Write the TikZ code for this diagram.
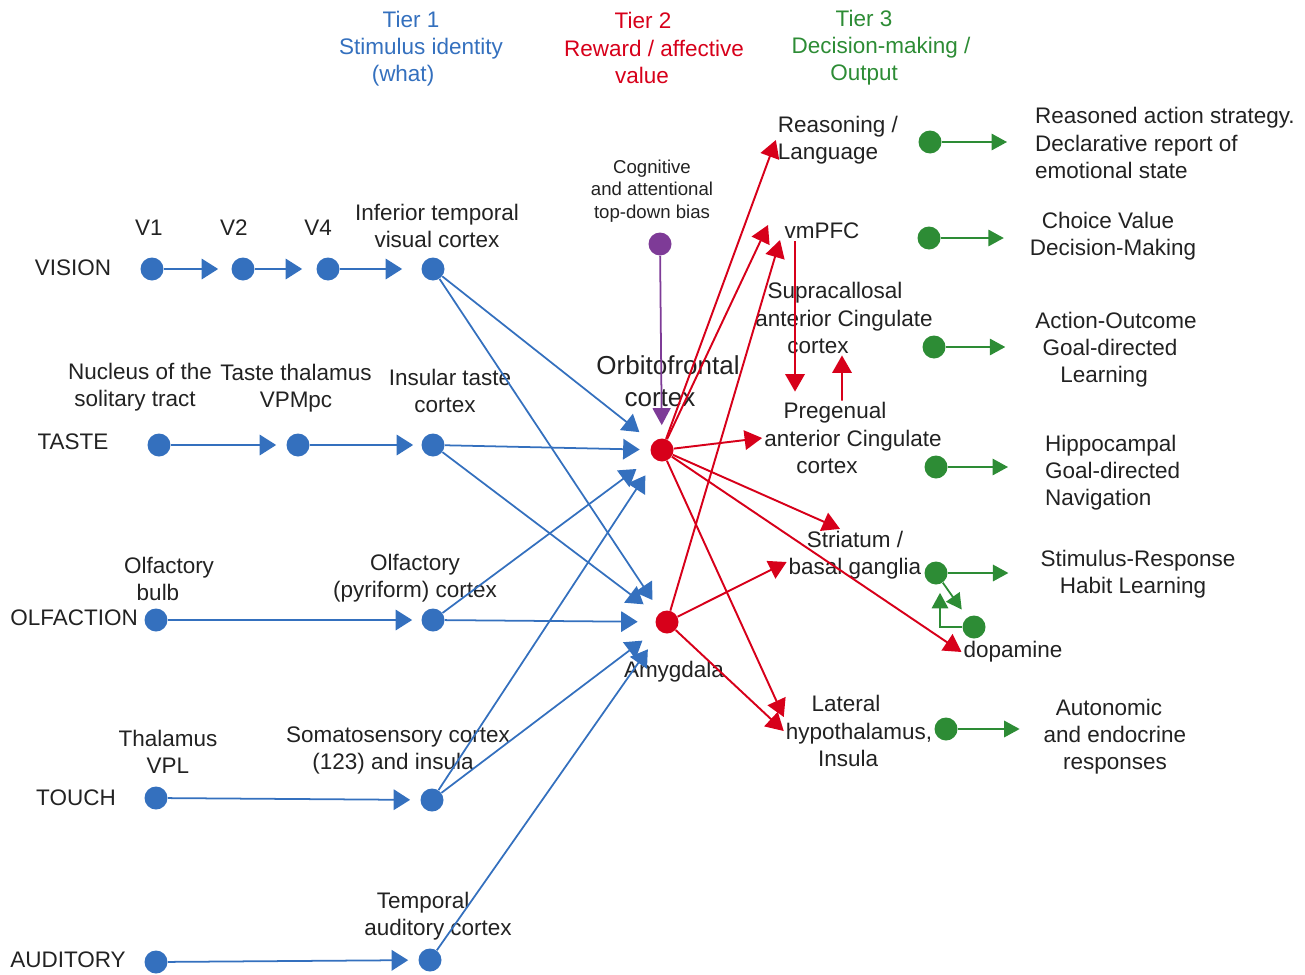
\documentclass[tikz,border=0pt]{standalone}
\usepackage{fontspec}
\setmainfont{Liberation Sans}
\usetikzlibrary{arrows.meta}
\definecolor{tierblue}{HTML}{3470BE}
\definecolor{tierred}{HTML}{D7001A}
\definecolor{tiergreen}{HTML}{2D8C35}
\definecolor{biaspurple}{HTML}{7E3B97}
\definecolor{txtgray}{HTML}{222222}

\begin{document}
\begin{tikzpicture}[x=0.02cm, y=-0.02cm,
    lbl/.style={align=center, text=txtgray, inner sep=1pt, font=\fontsize{12.8}{15.4}\selectfont},
    dot/.style={circle, minimum size=0.46cm, inner sep=0pt},
    bdot/.style={dot, fill=tierblue},
    rdot/.style={dot, fill=tierred},
    gdot/.style={dot, fill=tiergreen},
    barrow/.style={-{Triangle[length=0.33cm, width=0.41cm]}, tierblue, line width=1pt, shorten >=0.2cm},
    rarrow/.style={-{Triangle[length=0.35cm, width=0.39cm]}, tierred, line width=1.1pt},
    garrow/.style={-{Triangle[length=0.31cm, width=0.33cm]}, tiergreen, line width=1pt}
  ]
    \useasboundingbox (0,0) rectangle (1305,974);

    % Tier headings
    \node[lbl, text=tierblue] (tier1) at (421,49) {Tier 1\kern0.4cm\\Stimulus identity\\(what)\kern0.72cm};
    \node[lbl, text=tierred] (tier2) at (654,48) {Tier 2\kern0.44cm\\Reward / affective\\value\kern0.48cm};
    \node[lbl, text=tiergreen] (tier3) at (881,48) {Tier 3\kern0.68cm\\Decision-making /\\Output\kern0.68cm};

    % Tier 1 dots
    \node[bdot] (v1) at (152,269) {};
    \node[bdot] (v2) at (243,269) {};
    \node[bdot] (v4) at (328,269) {};
    \node[bdot] (itc) at (433,269) {};
    \node[bdot] (nts) at (159,445) {};
    \node[bdot] (vpm) at (298,445) {};
    \node[bdot] (ins) at (433,445) {};
    \node[bdot] (ob) at (156,620) {};
    \node[bdot] (pyr) at (433,620) {};
    \node[bdot] (vpl) at (156,798) {};
    \node[bdot] (som) at (432,800) {};
    \node[bdot] (ear) at (156,962) {};
    \node[bdot] (aud) at (430,960) {};

    % Tier 1 labels
    \node[lbl] (vision) at (73,268) {VISION};
    \node[lbl] (taste) at (73,442) {TASTE};
    \node[lbl] (olfaction) at (74,618) {OLFACTION};
    \node[lbl] (touch) at (76,798) {TOUCH};
    \node[lbl] (auditory) at (68,960) {AUDITORY};
    \node[lbl] (v1lbl) at (149,228) {V1};
    \node[lbl] (v2lbl) at (234,228) {V2};
    \node[lbl] (v4lbl) at (318,228) {V4};
    \node[lbl] (itclbl) at (437,226) {Inferior temporal\\visual cortex};
    \node[lbl] (ntslbl) at (140,387) {Nucleus of the\\solitary tract\kern0.2cm};
    \node[lbl] (vpmlbl) at (296,388) {Taste thalamus\\VPMpc};
    \node[lbl] (inslbl) at (450,391) {Insular taste\\cortex\kern0.2cm};
    \node[lbl] (oblbl) at (169,579) {Olfactory\\bulb\kern0.44cm};
    \node[lbl] (pyrlbl) at (415,578) {Olfactory\\(pyriform) cortex};
    \node[lbl] (vpllbl) at (168,752) {Thalamus\\VPL};
    \node[lbl] (somlbl) at (398,750) {Somatosensory cortex\\(123) and insula\kern0.2cm};
    \node[lbl] (audlbl) at (438,916) {Temporal\kern0.6cm\\auditory cortex};

    % Tier 2
    \node[rdot] (ofc) at (662,450) {};
    \node[rdot] (amy) at (667,622) {};
    \node[dot, fill=biaspurple] (bias) at (660,244) {};
    \node[lbl, font=\fontsize{14.8}{18.2}\selectfont] (ofclbl) at (668,381) {Orbitofrontal\\cortex\kern0.32cm};
    \node[lbl] (amylbl) at (674,672) {Amygdala};
    \node[lbl, font=\fontsize{10.6}{12.8}\selectfont] (biaslbl) at (652,191) {Cognitive\\and attentional\\top-down bias};

    % Tier 3 regions
    \node[lbl] (reason) at (838,140) {Reasoning /\\Language\kern0.4cm};
    \node[lbl] (vmpfc) at (822,231) {vmPFC};
    \node[lbl] (supra) at (844,318) {Supracallosal\kern0.36cm\\anterior Cingulate\\cortex\kern1.04cm};
    \node[lbl] (preg) at (853,438) {Pregenual\kern0.72cm\\anterior Cingulate\\cortex\kern1.04cm};
    \node[lbl] (striat) at (855,555) {Striatum /\\basal ganglia};
    \node[lbl] (dopa) at (1013,652) {dopamine};
    \node[lbl] (lh) at (859,731) {Lateral\kern0.52cm\\hypothalamus,\\Insula\kern0.44cm};
    \coordinate (vmIn1) at (768,225);
    \coordinate (vmIn2) at (780,240);

    % Tier 3 outputs
    \node[gdot] (gReason) at (930,142) {};
    \node[gdot] (gVm) at (929,238) {};
    \node[gdot] (gSupra) at (934,347) {};
    \node[gdot] (gPreg) at (936,467) {};
    \node[gdot] (gStr) at (936,573) {};
    \node[gdot] (gDopa) at (974,627) {};
    \node[gdot] (gLh) at (946,729) {};
    \node[lbl, align=left, anchor=west] (oReason) at (1033,143) {Reasoned action strategy.\\Declarative report of\\emotional state};
    \node[lbl] (oVm) at (1113,236) {Choice Value\kern0.2cm\\Decision-Making};
    \node[lbl] (oSupra) at (1116,350) {Action-Outcome\\Goal-directed\kern0.24cm\\Learning\kern0.48cm};
    \node[lbl, align=left, anchor=west] (oPreg) at (1043,473) {Hippocampal\\Goal-directed\\Navigation};
    \node[lbl] (oStr) at (1138,574) {Stimulus-Response\\Habit Learning\kern0.2cm};
    \node[lbl] (oLh) at (1115,737) {Autonomic\kern0.24cm\\and endocrine\\responses};

    % Tier 1 arrows
    \draw[barrow, shorten >=0.26cm] (v1) -- (v2);
    \draw[barrow, shorten >=0.28cm] (v2) -- (v4);
    \draw[barrow, shorten >=0.38cm] (v4) -- (itc);
    \draw[barrow] (nts) -- (vpm);
    \draw[barrow, shorten >=0.16cm] (vpm) -- (ins);
    \draw[barrow, shorten >=0.18cm] (ob) -- (pyr);
    \draw[barrow] (vpl) -- (som);
    \draw[barrow] (ear) -- (aud);

    % Tier 1 to Tier 2
    \draw[barrow, shorten >=0.34cm] (itc) -- (ofc);
    \draw[barrow, shorten >=0.21cm] (ins) -- (ofc);
    \draw[barrow, shorten >=0.4cm] (pyr) -- (ofc);
    \draw[barrow, shorten >=0.37cm] (som) -- (ofc);
    \draw[barrow, shorten >=0.29cm] (itc) -- (amy);
    \draw[barrow, shorten >=0.35cm] (ins) -- (amy);
    \draw[barrow, shorten >=0.35cm] (pyr) -- (amy);
    \draw[barrow, shorten >=0.38cm] (som) -- (amy);
    \draw[barrow, shorten >=0.43cm] (aud) -- (amy);
    \draw[-{Triangle[length=0.34cm, width=0.36cm]}, biaspurple, line width=1pt, shorten >=0.26cm] (bias) -- (ofc);

    % Tier 2 to Tier 3
    \draw[rarrow] (ofc) -- (reason.west);
    \draw[rarrow] (ofc) -- (vmIn1);
    \draw[rarrow] (amy) -- (vmIn2);
    \draw[rarrow] (ofc) -- (preg.west);
    \draw[rarrow] (ofc) -- ([xshift=-0.3cm]striat.north);
    \draw[rarrow] (ofc) -- (dopa.west);
    \draw[rarrow] (ofc) -- ([yshift=0.28cm]lh.west);
    \draw[rarrow] (amy) -- ([yshift=-0.14cm]striat.west);
    \draw[rarrow] (amy) -- (lh.west);
    \draw[rarrow, shorten >=0.18cm] ([xshift=-0.54cm]vmpfc.south) -- ([xshift=-0.54cm]vmpfc.south |- preg.north);
    \draw[rarrow] ([xshift=-0.22cm]preg.north) -- ([xshift=-0.04cm]supra.south);

    % Tier 3 outputs
    \draw[garrow, shorten >=0.52cm] (gReason) -- (gReason -| oReason.west);
    \draw[garrow, shorten >=0.48cm] (gVm) -- (gVm -| oVm.west);
    \draw[garrow, shorten >=0.56cm] (gSupra) -- (gSupra -| oSupra.west);
    \draw[garrow, shorten >=0.7cm] (gPreg) -- (gPreg -| oPreg.west);
    \draw[garrow, shorten >=0.6cm] (gStr) -- (gStr -| oStr.west);
    \draw[garrow, shorten >=0.44cm] (gLh) -- (gLh -| oLh.west);
    \draw[garrow, shorten >=0.19cm] (gStr) -- (gDopa);
    \draw[garrow, shorten >=0.16cm] (gDopa) -| ([xshift=0.08cm]gStr.south);
  \end{tikzpicture}
\end{document}
